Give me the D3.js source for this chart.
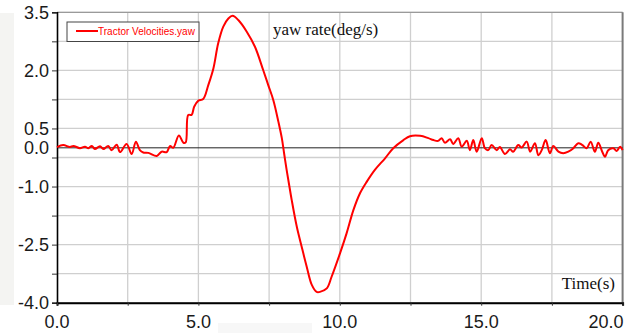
<!DOCTYPE html>
<html>
<head>
<meta charset="utf-8">
<script src="https://cdn.jsdelivr.net/npm/d3@7"></script>
<style>
  html, body { margin: 0; padding: 0; background: #fff; }
  svg { display: block; }
</style>
</head>
<body>
<figure id="chart" style="margin:0"></figure>
<script>
// time (s) and tractor yaw rate (deg/s)
const timeValues = [0, 0.22, 0.46, 0.58, 0.81, 0.99, 1.11, 1.23, 1.34, 1.52, 1.64, 1.81, 1.93, 2.11, 2.23, 2.46, 2.64, 2.79, 2.93, 3.05,
  3.23, 3.53, 3.70, 3.88, 4.00, 4.11, 4.31, 4.47, 4.55, 4.64, 4.76, 4.85, 5.00, 5.17, 5.35, 5.53, 5.70, 5.88, 6.06, 6.21,
  6.41, 6.71, 7.00, 7.29, 7.47, 7.65, 7.83, 7.95, 8.03, 8.12, 8.18, 8.30, 8.48, 8.65, 8.83, 9.01, 9.18, 9.30, 9.54, 9.71,
  10.01, 10.24, 10.48, 10.71, 10.95, 11.24, 11.60, 11.89, 12.25, 12.48, 12.84, 13.13, 13.31, 13.48, 13.60, 13.72, 13.90, 14.01, 14.19, 14.31,
  14.49, 14.60, 14.72, 14.84, 15.02, 15.13, 15.25, 15.37, 15.55, 15.66, 15.84, 16.02, 16.13, 16.31, 16.43, 16.61, 16.73, 16.90, 17.02, 17.14,
  17.28, 17.43, 17.55, 17.73, 17.90, 18.08, 18.26, 18.43, 18.58, 18.73, 18.87, 19.02, 19.14, 19.28, 19.38, 19.49, 19.67, 19.79, 19.91, 20.0];
const yawValues = [0.02, 0.07, 0.02, 0.05, -0.01, 0.03, -0.01, 0.05, -0.03, 0.04, -0.03, 0.05, -0.06, 0.08, -0.11, 0.10, -0.16, 0.16, -0.06, -0.12,
  -0.13, -0.21, -0.10, -0.11, 0.05, 0.00, 0.32, 0.13, 0.14, 0.85, 0.85, 1.06, 1.22, 1.26, 1.62, 2.05, 2.70, 3.13, 3.34, 3.41,
  3.30, 3.00, 2.61, 2.01, 1.62, 1.23, 0.67, 0.25, -0.14, -0.57, -0.83, -1.35, -2.04, -2.55, -3.07, -3.54, -3.72, -3.72, -3.63, -3.33,
  -2.72, -2.21, -1.61, -1.18, -0.88, -0.57, -0.27, -0.01, 0.20, 0.30, 0.31, 0.25, 0.20, 0.18, 0.25, 0.13, 0.22, 0.10, 0.25, 0.03,
  0.18, -0.06, 0.20, -0.10, 0.25, -0.01, -0.06, 0.07, -0.06, 0.02, -0.16, -0.04, -0.10, 0.07, 0.01, 0.16, -0.10, 0.12, -0.19, -0.06,
  0.20, -0.14, 0.05, -0.10, -0.14, -0.10, -0.01, 0.12, 0.07, -0.01, 0.16, -0.10, 0.13, -0.10, -0.23, -0.06, -0.01, -0.08, 0.03, -0.06];

const xTicks = [0, 5, 10, 15, 20];
const xGrid = [2.5, 5, 7.5, 10, 12.5, 15, 17.5];
const yTicks = [3.5, 2.0, 0.5, 0.0, -1.0, -2.5, -4.0];
const yGrid = [3.5, 2.75, 2.0, 1.25, 0.5, -0.25, -1.0, -1.75, -2.5, -3.25, -4.0];
const seriesName = "Tractor Velocities.yaw";

const W = 632, H = 333;
const margin = { top: 12.3, right: 9.4, bottom: 30.3, left: 57 };
const width = W - margin.left - margin.right;
const height = H - margin.top - margin.bottom;

const svg = d3.select("figure#chart")
  .append("svg")
  .attr("width", W)
  .attr("height", H);

// faint grey strips from the original screenshot
svg.append("rect").attr("x", 0).attr("y", 13).attr("width", 14).attr("height", 292).attr("fill", "#f4f4f2");
svg.append("rect").attr("x", 218).attr("y", 323).attr("width", 94).attr("height", 10).attr("fill", "#f7f7f7");

const g = svg.append("g")
  .attr("transform", "translate(" + margin.left + "," + margin.top + ")");

const x = d3.scaleLinear().domain([0, 20]).range([0, width]);
const y = d3.scaleLinear().domain([-4, 3.5]).range([height, 0]);

// grid
g.append("g")
  .selectAll("line")
  .data(yGrid)
  .enter()
  .append("line")
  .attr("x1", 0).attr("x2", width)
  .attr("y1", d => y(d)).attr("y2", d => y(d))
  .attr("stroke", "#cfcfcf").attr("stroke-width", 1.3);

g.append("g")
  .selectAll("line")
  .data(xGrid)
  .enter()
  .append("line")
  .attr("y1", 0).attr("y2", height)
  .attr("x1", d => x(d)).attr("x2", d => x(d))
  .attr("stroke", "#cfcfcf").attr("stroke-width", 1.3);

// frame: grey top and right, black left and bottom
g.append("line").attr("x1", 0).attr("x2", width).attr("y1", 0).attr("y2", 0)
  .attr("stroke", "#9a9a9a").attr("stroke-width", 1.2);
g.append("line").attr("x1", width).attr("x2", width).attr("y1", 0).attr("y2", height)
  .attr("stroke", "#7a7a7a").attr("stroke-width", 2);

// zero line
g.append("line").attr("x1", 0).attr("x2", width).attr("y1", y(0)).attr("y2", y(0))
  .attr("stroke", "#222").attr("stroke-width", 1);

// left axis: small ticks at every grid line, labels on the labelled ones
const yAxis = g.append("g")
  .call(d3.axisLeft(y).tickValues(yGrid).tickSize(5).tickFormat(""));
yAxis.select(".domain").attr("stroke", "#000").attr("stroke-width", 1.6);
yAxis.selectAll(".tick line").attr("stroke", "#333");

g.append("g")
  .selectAll("text")
  .data(yTicks)
  .enter()
  .append("text")
  .attr("x", -8)
  .attr("y", d => y(d))
  .attr("dy", "0.36em")
  .attr("text-anchor", "end")
  .style("font", "18px 'Liberation Sans', Arial, sans-serif")
  .attr("fill", "#1a1a1a")
  .text(d => d.toFixed(1));

// bottom axis
const xAxis = g.append("g")
  .attr("transform", "translate(0," + height + ")")
  .call(d3.axisBottom(x).tickValues([0].concat(xGrid, [20])).tickSize(3).tickFormat(""));
xAxis.select(".domain").attr("stroke", "#000").attr("stroke-width", 2);
xAxis.selectAll(".tick line").attr("stroke", "#333");

g.append("g")
  .selectAll("text")
  .data(xTicks)
  .enter()
  .append("text")
  .attr("x", d => d === 20 ? x(d) + 1 : x(d))
  .attr("y", height + 25)
  .attr("text-anchor", d => d === 20 ? "end" : "middle")
  .style("font", "18px 'Liberation Sans', Arial, sans-serif")
  .attr("fill", "#1a1a1a")
  .text(d => d.toFixed(1));

// the series
const line = d3.line()
  .x((d, i) => x(timeValues[i]))
  .y(d => y(d))
  .curve(d3.curveCatmullRom.alpha(0.5));

g.append("path")
  .datum(yawValues)
  .attr("fill", "none")
  .attr("stroke", "#ff0000")
  .attr("stroke-width", 2)
  .attr("stroke-linejoin", "round")
  .attr("d", line);

// titles
svg.append("text")
  .attr("x", 273).attr("y", 35)
  .style("font", "17px 'Liberation Serif', 'Times New Roman', serif")
  .attr("fill", "#111")
  .text("yaw rate(deg/s)");

svg.append("text")
  .attr("x", 615).attr("y", 289)
  .attr("text-anchor", "end")
  .style("font", "17px 'Liberation Serif', 'Times New Roman', serif")
  .attr("fill", "#111")
  .text("Time(s)");

// legend
const legend = svg.append("g").attr("transform", "translate(67,22)");
legend.append("rect")
  .attr("width", 132).attr("height", 19.5)
  .attr("fill", "#fff").attr("stroke", "#444").attr("stroke-width", 1);
legend.append("line")
  .attr("x1", 9).attr("x2", 31).attr("y1", 9).attr("y2", 9)
  .attr("stroke", "#ff0000").attr("stroke-width", 2);
legend.append("text")
  .attr("x", 31).attr("y", 13)
  .style("font", "10px 'Liberation Sans', Arial, sans-serif")
  .attr("fill", "#ff0000")
  .text(seriesName);
</script>
</body>
</html>
